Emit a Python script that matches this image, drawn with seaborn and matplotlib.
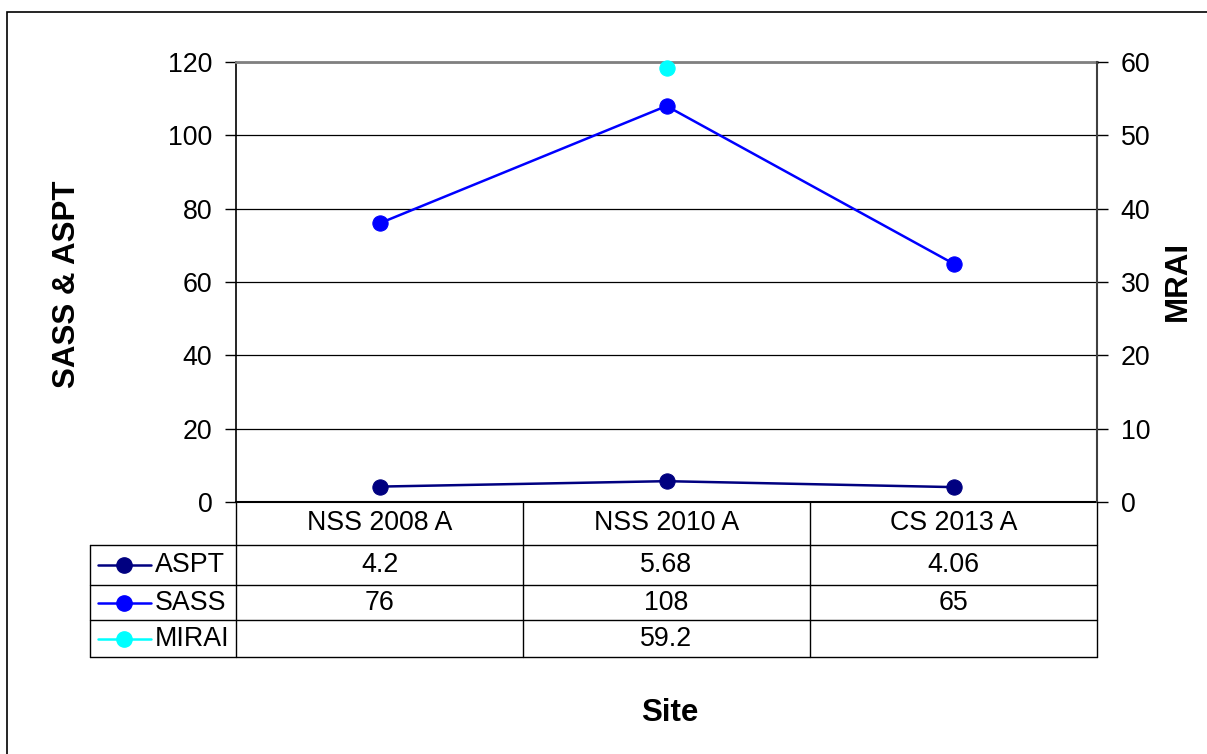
import matplotlib
matplotlib.use("Agg")
import matplotlib.pyplot as plt
from matplotlib.lines import Line2D
from matplotlib.patches import Rectangle
import seaborn as sns
import pandas as pd

sns.set_theme(style="white")
plt.rcParams["font.family"] = ["Liberation Sans", "DejaVu Sans"]
plt.rcParams["text.color"] = "black"

# Data
sites = ["NSS 2008 A", "NSS 2010 A", "CS 2013 A"]
aspt = [4.2, 5.68, 4.06]
sass = [76, 108, 65]
mirai = [None, 59.2, None]
series_names = ["ASPT", "SASS", "MIRAI"]
series_colors = ["#000080", "#0000FF", "#00FFFF"]

W, H = 1207, 754
fig = plt.figure(figsize=(W / 100, H / 100), dpi=100)


def fx(x):
    return x / W


def fy(y):
    return 1 - y / H


# plot area in pixels
L, R, T, B = 236, 1097, 62, 502
ax = fig.add_axes([fx(L), fy(B), fx(R) - fx(L), fy(T) - fy(B)])
ax2 = ax.twinx()

FS = 19.3
TFS = 22.5
LW = 1.8
MS = 11
df = pd.DataFrame({"x": [0, 1, 2], "ASPT": aspt, "SASS": sass, "MIRAI": mirai})

for name, color, axis in [("ASPT", series_colors[0], ax), ("SASS", series_colors[1], ax)]:
    sns.lineplot(data=df, x="x", y=name, ax=axis, color=color, lw=LW,
                 marker="o", markersize=MS, markeredgecolor=color, clip_on=False)
sns.lineplot(data=df.dropna(subset=["MIRAI"]), x="x", y="MIRAI", ax=ax2,
             color=series_colors[2], lw=LW, marker="o", markersize=MS,
             markeredgecolor=series_colors[2], clip_on=False)

ax.set_xlim(-0.5, 2.5)
ax.set_ylim(0, 120)
ax2.set_ylim(0, 60)
ax.set_yticks(range(0, 121, 20))
ax2.set_yticks(range(0, 61, 10))
ax.set_xticks([])
ax.set_xlabel("")
ax.set_ylabel("")
ax2.set_ylabel("")
ax.grid(axis="y", color="black", lw=0.9)
ax.set_axisbelow(True)

for a in (ax, ax2):
    a.tick_params(axis="y", labelsize=FS, length=8, width=1, direction="out",
                  colors="black", labelcolor="black", pad=9)
    for s in a.spines.values():
        s.set_visible(False)
ax.tick_params(axis="y", left=True, right=False)
ax2.tick_params(axis="y", right=True, left=False)
ax.spines["left"].set_visible(True)
ax.spines["left"].set_color("black")
ax.spines["left"].set_linewidth(1.2)
ax.spines["top"].set_visible(True)
ax.spines["top"].set_color("#808080")
ax.spines["top"].set_linewidth(2)
ax2.spines["right"].set_visible(True)
ax2.spines["right"].set_color("#404040")
ax2.spines["right"].set_linewidth(1.5)
ax.spines["bottom"].set_visible(True)
ax.spines["bottom"].set_color("black")
ax.spines["bottom"].set_linewidth(1.5)


def hline(x0, x1, y, lw=1.0, color="black"):
    fig.add_artist(Line2D([fx(x0), fx(x1)], [fy(y), fy(y)], color=color, lw=lw))


def vline(x, y0, y1, lw=1.0, color="black"):
    fig.add_artist(Line2D([fx(x), fx(x)], [fy(y0), fy(y1)], color=color, lw=lw))


# data table beneath the plot
col_edges = [L, 523, 810, R]
row_edges = [B, 545, 585, 620, 657]
KEY_L = 90
for x in col_edges:
    vline(x, B, row_edges[-1])
vline(KEY_L, row_edges[1], row_edges[-1])
for y in row_edges[1:]:
    hline(KEY_L, R, y)

centers = [(col_edges[i] + col_edges[i + 1]) / 2 for i in range(3)]
for cx, s in zip(centers, sites):
    fig.text(fx(cx), fy((row_edges[0] + row_edges[1]) / 2), s, ha="center",
             va="center", fontsize=FS)

rows = [aspt, sass, mirai]
for r, (name, color, vals) in enumerate(zip(series_names, series_colors, rows)):
    yc = (row_edges[r + 1] + row_edges[r + 2]) / 2
    fig.add_artist(Line2D([fx(98), fx(151)], [fy(yc), fy(yc)], color=color, lw=LW))
    fig.add_artist(Line2D([fx(124.5)], [fy(yc)], color=color, marker="o",
                          markersize=MS, markeredgecolor=color))
    fig.text(fx(155), fy(yc), name, ha="left", va="center", fontsize=FS)
    for cx, v in zip(centers, vals):
        if v is not None:
            fig.text(fx(cx), fy(yc), f"{v:g}", ha="center", va="center", fontsize=FS)

# axis titles
fig.text(fx(67), fy(284), "SASS & ASPT", rotation=90, ha="center", va="center",
         fontsize=TFS, fontweight="bold")
fig.text(fx(1178), fy(281), "MRAI", rotation=90, ha="center", va="center",
         fontsize=TFS, fontweight="bold")
fig.text(fx(670), fy(713), "Site", ha="center", va="center",
         fontsize=TFS, fontweight="bold")

# chart border
fig.add_artist(Rectangle((fx(7), fy(770)), fx(1220) - fx(7), fy(12) - fy(770),
                         fill=False, edgecolor="black", lw=1.2))

fig.savefig("out.png", dpi=100)
